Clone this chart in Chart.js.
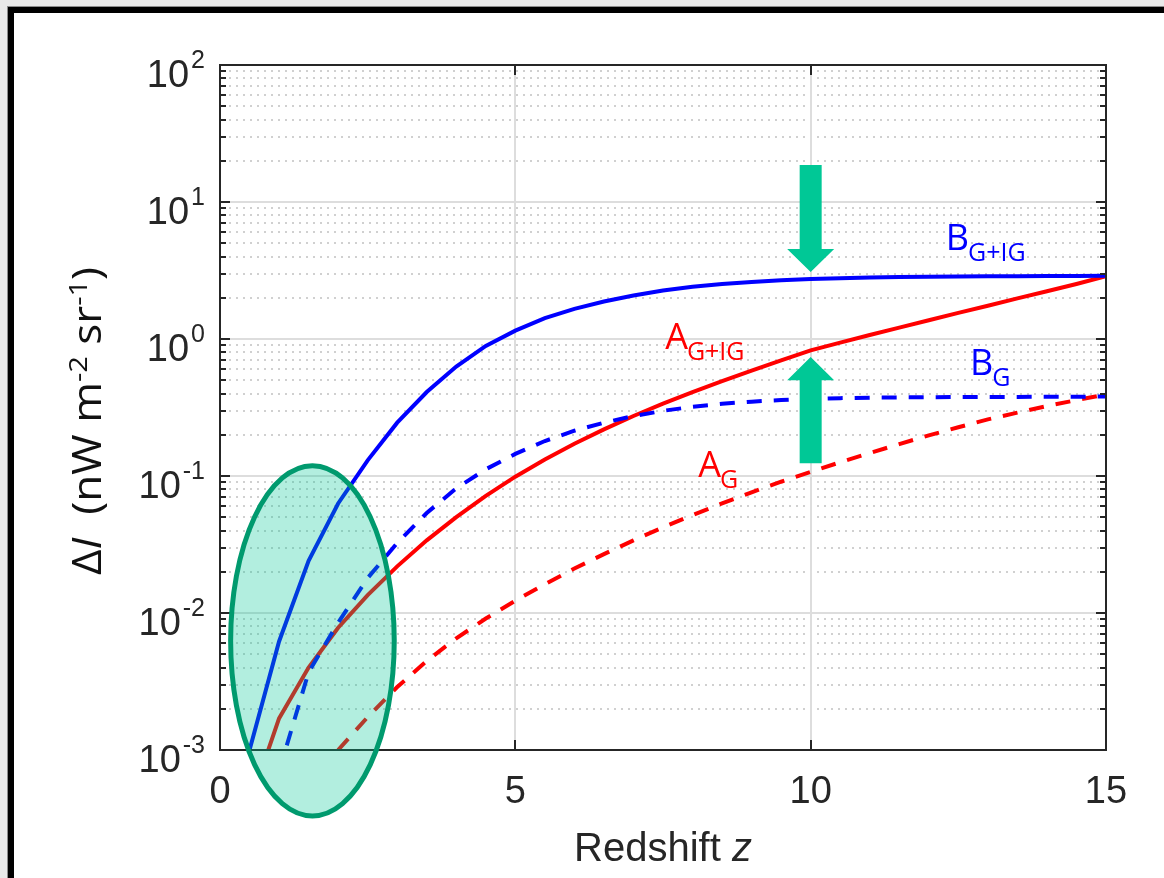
<!DOCTYPE html>
<html>
<head>
<meta charset="utf-8">
<script src="https://cdn.jsdelivr.net/npm/chart.js@4.4.0/dist/chart.umd.min.js"></script>
<style>
  html, body { margin: 0; padding: 0; background: #e9e9e9; }
  canvas { display: block; }
</style>
</head>
<body>
<canvas id="deltaChart" width="1164" height="878"></canvas>
<script>
// ================= DATA =================
const redshift = [0.5, 1, 1.5, 2, 2.5, 3, 3.5, 4, 4.5, 5, 5.5, 6, 6.5, 7, 7.5, 8, 8.5, 9, 9.5, 10,
                  10.5, 11, 11.5, 12, 12.5, 13, 13.5, 14, 14.5, 15];

// B (G+IG), blue solid
const bGIG = [0.001, 0.0062, 0.024, 0.063, 0.13, 0.245, 0.41, 0.63, 0.89, 1.15, 1.42, 1.66, 1.88, 2.08, 2.26,
              2.41, 2.52, 2.61, 2.68, 2.74, 2.78, 2.81, 2.83, 2.85, 2.86, 2.87, 2.875, 2.88, 2.885, 2.89];
// B (G), blue dashed
const bG = [null, 0.0007, 0.0037, 0.0085, 0.018, 0.0324, 0.0537, 0.0813, 0.112, 0.145, 0.18, 0.214, 0.245, 0.274, 0.299,
            0.32, 0.337, 0.349, 0.358, 0.365, 0.37, 0.373, 0.375, 0.376, 0.377, 0.378, 0.378, 0.379, 0.379, 0.38];
// A (G+IG), red solid
const aGIG = [0.0004, 0.0017, 0.004, 0.0078, 0.0135, 0.0219, 0.0339, 0.0501, 0.0716, 0.0989, 0.132, 0.172, 0.219, 0.274, 0.337,
              0.409, 0.492, 0.587, 0.698, 0.826, 0.94, 1.07, 1.21, 1.37, 1.55, 1.75, 1.98, 2.23, 2.52, 2.88];
// A (G), red dashed
const aG = [null, null, null, 0.001, 0.00174, 0.00288, 0.00447, 0.00653, 0.00912, 0.0123, 0.0162, 0.0211, 0.0269, 0.0339, 0.0422,
            0.0519, 0.0631, 0.076, 0.0908, 0.107, 0.126, 0.147, 0.171, 0.198, 0.227, 0.259, 0.29, 0.324, 0.358, 0.393];

const xTicks = [0, 5, 10, 15];
const yTicks = [1e-3, 1e-2, 1e-1, 1, 10, 100];

// ================= ANNOTATIONS (data coordinates) =================
const ellipseBox = { zMin: 0.18, zMax: 2.95, vMin: 3.3e-4, vMax: 0.119 };
const arrowZ = 10;
const arrowDown = { tail: 18.6, head: 4.54, tip: 3.08 };
const arrowUp = { tail: 0.124, head: 0.50, tip: 0.74 };
const curveLabels = [
    { main: "B", sub: "G+IG", z: 12.32, v: 4.46, color: "#0000ff" },
    { main: "A", sub: "G+IG", z: 7.57, v: 0.845, color: "#ff0000" },
    { main: "B", sub: "G", z: 12.73, v: 0.546, color: "#0000ff" },
    { main: "A", sub: "G", z: 8.13, v: 0.0983, color: "#ff0000" }
];

const toPoints = (vals) => redshift.map((z, i) => ({ x: z, y: vals[i] }));

const tickFont = "38px 'Liberation Sans', Arial, sans-serif";
const tickSupFont = "25px 'Liberation Sans', Arial, sans-serif";
const noteFont = "36px 'Open Sans', sans-serif";
const noteSubFont = "25px 'Open Sans', sans-serif";

// ================= DRAWING HELPERS =================
function hLine(ctx, x1, y1, x2, y2) {
    ctx.beginPath();
    ctx.moveTo(x1, y1);
    ctx.lineTo(x2, y2);
    ctx.stroke();
}

function drawArrow(ctx, px, tail, head, tip) {
    ctx.beginPath();
    ctx.moveTo(px - 11, tail);
    ctx.lineTo(px - 11, head);
    ctx.lineTo(px - 23.5, head);
    ctx.lineTo(px, tip);
    ctx.lineTo(px + 23.5, head);
    ctx.lineTo(px + 11, head);
    ctx.lineTo(px + 11, tail);
    ctx.closePath();
    ctx.fill();
}

const figurePlugin = {
    id: "figurePlugin",
    beforeDraw(chart) {
        const ctx = chart.ctx;
        ctx.save();
        ctx.fillStyle = "#e9e9e9";
        ctx.fillRect(0, 0, chart.width, chart.height);
        ctx.fillStyle = "#8c8c8c";
        ctx.fillRect(7, 6, chart.width, chart.height);
        ctx.fillStyle = "#000";
        ctx.fillRect(8, 7, chart.width, chart.height);
        ctx.fillStyle = "#fff";
        ctx.fillRect(14, 13, chart.width, chart.height);
        ctx.restore();
    },
    beforeDatasetsDraw(chart) {
        const ctx = chart.ctx;
        const { left, right, top, bottom } = chart.chartArea;
        const xs = chart.scales.x, ys = chart.scales.y;
        ctx.save();
        // minor dotted grid
        ctx.strokeStyle = "#d0d0d0";
        ctx.lineWidth = 2;
        ctx.setLineDash([2, 5]);
        for (let e = -3; e < 2; e++) {
            for (let k = 2; k < 10; k++) {
                const py = Math.round(ys.getPixelForValue(k * Math.pow(10, e)));
                hLine(ctx, left + 2, py, right, py);
            }
        }
        // major grid
        ctx.setLineDash([]);
        ctx.strokeStyle = "#dddddd";
        ctx.lineWidth = 2;
        yTicks.slice(1, -1).forEach(v => {
            const py = Math.round(ys.getPixelForValue(v));
            hLine(ctx, left, py, right, py);
        });
        xTicks.slice(1, -1).forEach(v => {
            const px = Math.round(xs.getPixelForValue(v));
            hLine(ctx, px, top, px, bottom);
        });
        ctx.restore();
    },
    afterDatasetsDraw(chart) {
        const ctx = chart.ctx;
        const { left, right, top, bottom } = chart.chartArea;
        const xs = chart.scales.x, ys = chart.scales.y;
        ctx.save();

        // axes box + inner ticks
        ctx.strokeStyle = "#262626";
        ctx.lineWidth = 2;
        ctx.strokeRect(left, top, right - left, bottom - top);
        for (let e = -3; e < 2; e++) {
            for (let k = 1; k < 10; k++) {
                const py = Math.round(ys.getPixelForValue(k * Math.pow(10, e)));
                const len = k === 1 ? 10 : 6;
                hLine(ctx, left, py, left + len, py);
                hLine(ctx, right, py, right - len, py);
            }
        }
        xTicks.slice(1, -1).forEach(v => {
            const px = Math.round(xs.getPixelForValue(v));
            hLine(ctx, px, bottom, px, bottom - 10);
            hLine(ctx, px, top, px, top + 10);
        });

        // x tick labels
        ctx.fillStyle = "#262626";
        ctx.font = tickFont;
        ctx.textAlign = "center";
        ctx.textBaseline = "alphabetic";
        xTicks.forEach(v => ctx.fillText(String(v), xs.getPixelForValue(v), bottom + 53));

        // y tick labels: 10 with superscript exponent
        yTicks.forEach(v => {
            const py = ys.getPixelForValue(v);
            const ex = String(Math.round(Math.log10(v)));
            ctx.textAlign = "right";
            ctx.font = tickSupFont;
            const supW = ctx.measureText(ex).width;
            ctx.fillText(ex, left - 15, py + 3);
            ctx.font = tickFont;
            ctx.fillText("10", left - 17 - supW, py + 22);
        });

        // x axis title
        ctx.textAlign = "left";
        ctx.font = "40px 'Liberation Sans', Arial, sans-serif";
        const w1 = ctx.measureText("Redshift ").width;
        ctx.font = "italic 40px 'Liberation Sans', Arial, sans-serif";
        const w2 = ctx.measureText("z").width;
        const xt0 = 663 - (w1 + w2) / 2;
        ctx.font = "40px 'Liberation Sans', Arial, sans-serif";
        ctx.fillText("Redshift ", xt0, 861);
        ctx.font = "italic 40px 'Liberation Sans', Arial, sans-serif";
        ctx.fillText("z", xt0 + w1, 861);

        // y axis title (rotated, with italic I and superscripts)
        const parts = [
            { t: "\u0394", f: "44px 'Open Sans', sans-serif", dy: 0 },
            { t: "I", f: "italic 44px 'Open Sans', sans-serif", dy: 0 },
            { t: "  (nW m", f: "44px 'Open Sans', sans-serif", dy: 0 },
            { t: "-2", f: "29px 'Open Sans', sans-serif", dy: -16 },
            { t: " sr", f: "44px 'Open Sans', sans-serif", dy: 0 },
            { t: "-1", f: "29px 'Open Sans', sans-serif", dy: -16 },
            { t: ")", f: "44px 'Open Sans', sans-serif", dy: 0 }
        ];
        let total = 0;
        parts.forEach(p => { ctx.font = p.f; p.w = ctx.measureText(p.t).width; total += p.w; });
        ctx.save();
        ctx.translate(101, 421);
        ctx.rotate(-Math.PI / 2);
        ctx.scale(1, 0.9);
        ctx.fillStyle = "#111";
        let cx = -total / 2;
        parts.forEach(p => { ctx.font = p.f; ctx.fillText(p.t, cx, p.dy); cx += p.w; });
        ctx.restore();

        // highlighted low-z ellipse
        const ex1 = xs.getPixelForValue(ellipseBox.zMin), ex2 = xs.getPixelForValue(ellipseBox.zMax);
        const ey1 = ys.getPixelForValue(ellipseBox.vMax), ey2 = ys.getPixelForValue(ellipseBox.vMin);
        ctx.beginPath();
        ctx.ellipse((ex1 + ex2) / 2, (ey1 + ey2) / 2, (ex2 - ex1) / 2, (ey2 - ey1) / 2, 0, 0, Math.PI * 2);
        ctx.fillStyle = "rgba(0, 200, 150, 0.3)";
        ctx.fill();
        ctx.strokeStyle = "#009a6e";
        ctx.lineWidth = 5;
        ctx.stroke();

        // arrows
        ctx.fillStyle = "#00c896";
        const ax = xs.getPixelForValue(arrowZ);
        [arrowDown, arrowUp].forEach(a => drawArrow(ctx, ax,
            ys.getPixelForValue(a.tail), ys.getPixelForValue(a.head), ys.getPixelForValue(a.tip)));

        // curve labels
        ctx.textAlign = "left";
        curveLabels.forEach(l => {
            const px = xs.getPixelForValue(l.z), py = ys.getPixelForValue(l.v);
            ctx.fillStyle = l.color;
            ctx.font = noteFont;
            ctx.fillText(l.main, px - 2, py);
            const mw = ctx.measureText(l.main).width;
            ctx.font = noteSubFont;
            ctx.fillText(l.sub, px - 3 + mw, py + 11);
        });

        ctx.restore();
    }
};

new Chart(document.getElementById("deltaChart"), {
    type: "line",
    data: {
        datasets: [
            { label: "B G+IG", data: toPoints(bGIG), borderColor: "#0000ff", borderWidth: 4 },
            { label: "B G", data: toPoints(bG), borderColor: "#0000ff", borderWidth: 4, borderDash: [15, 12] },
            { label: "A G+IG", data: toPoints(aGIG), borderColor: "#ff0000", borderWidth: 4 },
            { label: "A G", data: toPoints(aG), borderColor: "#ff0000", borderWidth: 4, borderDash: [15, 12] }
        ]
    },
    options: {
        responsive: false,
        animation: false,
        devicePixelRatio: 1,
        layout: { padding: { left: 220, right: 58, top: 65, bottom: 128 } },
        elements: {
            point: { radius: 0, hoverRadius: 0 },
            line: { tension: 0, fill: false, borderCapStyle: "butt" }
        },
        plugins: { legend: { display: false }, tooltip: { enabled: false } },
        scales: {
            x: { type: "linear", min: 0, max: 15, display: false },
            y: { type: "logarithmic", min: 1e-3, max: 100, display: false }
        }
    },
    plugins: [figurePlugin]
});
</script>
</body>
</html>
